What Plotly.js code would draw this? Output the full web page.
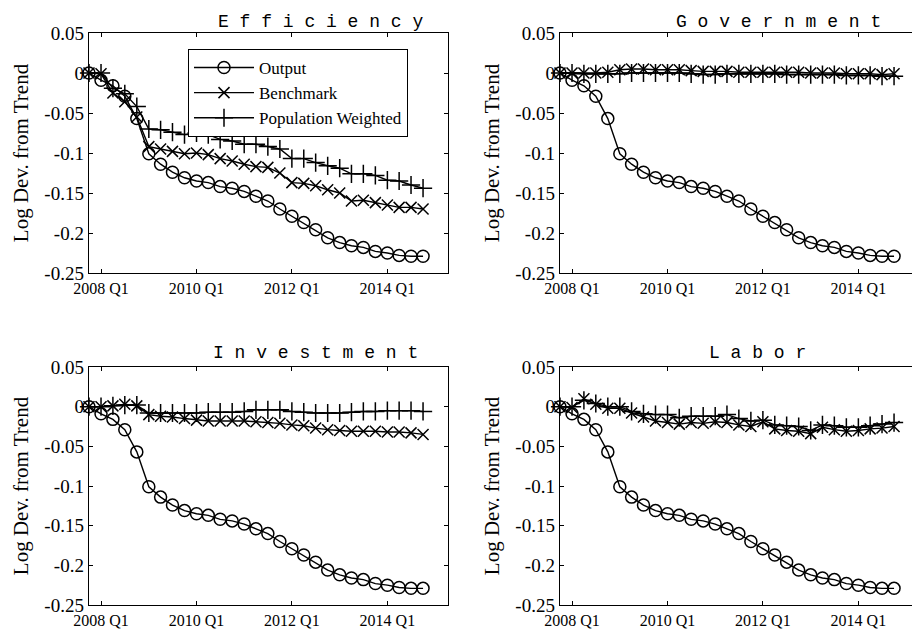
<!DOCTYPE html>
<html>
<head>
<meta charset="utf-8">
<script src="https://cdn.plot.ly/plotly-3.0.1.min.js"></script>
<style>
html,body{margin:0;padding:0;overflow:hidden;background:#fff;}
#chart{width:920px;height:639px;}
</style>
</head>
<body>
<div id="chart"></div>
<script>
// Quarterly dates, 2007 Q4 .. 2014 Q4
const quarters = ['2007-10-01','2008-01-01','2008-04-01','2008-07-01','2008-10-01',
  '2009-01-01','2009-04-01','2009-07-01','2009-10-01',
  '2010-01-01','2010-04-01','2010-07-01','2010-10-01',
  '2011-01-01','2011-04-01','2011-07-01','2011-10-01',
  '2012-01-01','2012-04-01','2012-07-01','2012-10-01',
  '2013-01-01','2013-04-01','2013-07-01','2013-10-01',
  '2014-01-01','2014-04-01','2014-07-01','2014-10-01'];

const tickDates = ['2008-01-01','2010-01-01','2012-01-01','2014-01-01'];
const tickLabels = ['2008 Q1','2010 Q1','2012 Q1','2014 Q1'];
const yTickVals = [0.05, 0, -0.05, -0.1, -0.15, -0.2, -0.25];
const yTickLabels = ['0.05','0','-0.05','-0.1','-0.15','-0.2','-0.25'];

const panelTitles = ['E f f i c i e n c y','G o v e r n m e n t','I n v e s t m e n t','L a b o r'];
const seriesNames = ['Output','Benchmark','Population Weighted'];

// Output (same in every panel)
const output = [0, -0.009, -0.016, -0.029, -0.057, -0.101, -0.114, -0.124, -0.131, -0.135,
  -0.137, -0.142, -0.144, -0.148, -0.154, -0.160, -0.170, -0.179, -0.187, -0.196,
  -0.206, -0.212, -0.216, -0.218, -0.223, -0.225, -0.228, -0.229, -0.229];

// Efficiency
const effBenchmark = [0, -0.001, -0.025, -0.036, -0.055, -0.092, -0.095, -0.098, -0.101, -0.100,
  -0.102, -0.107, -0.110, -0.114, -0.117, -0.118, -0.125, -0.137, -0.138, -0.141,
  -0.146, -0.150, -0.160, -0.159, -0.162, -0.165, -0.168, -0.168, -0.170];
const effPopWeighted = [0, 0.000, -0.019, -0.026, -0.042, -0.070, -0.071, -0.074, -0.077, -0.075,
  -0.077, -0.083, -0.085, -0.089, -0.089, -0.092, -0.095, -0.107, -0.107, -0.112,
  -0.116, -0.119, -0.126, -0.126, -0.128, -0.134, -0.135, -0.140, -0.144];

// Government
const govBenchmark = [0, 0, 0, 0, 0.001, 0.004, 0.005, 0.005, 0.004, 0.004,
  0.004, 0.003, 0.002, 0.002, 0.002, 0.001, 0.001, 0.001, 0.001, 0.001,
  0.001, 0.000, 0.000, 0.000, -0.001, -0.001, -0.001, -0.002, -0.001];
const govPopWeighted = [0, 0, -0.001, -0.001, -0.001, -0.001, 0, 0, 0, 0,
  0, -0.001, -0.002, -0.002, -0.001, -0.001, -0.001, -0.001, -0.001, -0.002,
  -0.002, -0.002, -0.002, -0.002, -0.003, -0.003, -0.003, -0.004, -0.004];

// Investment
const invBenchmark = [0, 0, 0.001, 0.003, 0.001, -0.010, -0.012, -0.013, -0.015, -0.017,
  -0.018, -0.018, -0.018, -0.018, -0.019, -0.020, -0.021, -0.023, -0.024, -0.027,
  -0.029, -0.030, -0.031, -0.031, -0.031, -0.032, -0.032, -0.033, -0.035];
const invPopWeighted = [0, 0, 0.001, 0.002, 0.002, -0.008, -0.008, -0.008, -0.008, -0.008,
  -0.007, -0.007, -0.007, -0.006, -0.004, -0.004, -0.004, -0.006, -0.007, -0.008,
  -0.008, -0.008, -0.007, -0.006, -0.006, -0.005, -0.005, -0.005, -0.006];

// Labor
const labBenchmark = [0, -0.001, 0.010, 0.003, -0.002, -0.002, -0.008, -0.013, -0.018, -0.020,
  -0.022, -0.020, -0.021, -0.019, -0.020, -0.023, -0.025, -0.019, -0.028, -0.030,
  -0.031, -0.034, -0.026, -0.029, -0.031, -0.030, -0.028, -0.027, -0.025];
const labPopWeighted = [0, 0, 0.008, 0.004, 0.000, 0.000, -0.006, -0.009, -0.010, -0.010,
  -0.014, -0.012, -0.012, -0.012, -0.010, -0.015, -0.018, -0.017, -0.023, -0.024,
  -0.025, -0.030, -0.023, -0.024, -0.026, -0.026, -0.024, -0.022, -0.020];

const panels = [
  {bench: effBenchmark, pop: effPopWeighted},
  {bench: govBenchmark, pop: govPopWeighted},
  {bench: invBenchmark, pop: invPopWeighted},
  {bench: labBenchmark, pop: labPopWeighted}
];

const W = 920, H = 639;
const xDom = [[89/W, 448/W], [560/W, 919/W], [89/W, 448/W], [560/W, 919/W]];
const yDom = [[1-273/H, 1-33/H], [1-273/H, 1-33/H], [1-605/H, 1-367/H], [1-605/H, 1-367/H]];
const titleX = [320, 778, 315, 757];
const titleY = [22, 22, 353, 353];

const serif = 'Liberation Serif, Times New Roman, serif';
const mono = 'Liberation Mono, Courier New, monospace';

const symbols = ['circle-open', 'x-thin-open', 'cross-thin-open'];
const sizes = [12, 11, 13];

const traces = [];
const layout = {
  width: W, height: H,
  margin: {l: 0, r: 0, t: 0, b: 0},
  paper_bgcolor: '#fff', plot_bgcolor: '#fff',
  showlegend: true,
  legend: {
    x: 188/W, y: 1-49/H, xanchor: 'left', yanchor: 'top',
    bgcolor: '#fff', bordercolor: '#000', borderwidth: 1,
    font: {family: serif, size: 17, color: '#000'},
    itemwidth: 60, tracegroupgap: 0,
    entrywidth: 172, entrywidthmode: 'pixels'
  },
  annotations: []
};

panels.forEach((p, i) => {
  const ax = i === 0 ? '' : String(i + 1);
  const series = [output, p.bench, p.pop];
  series.forEach((vals, k) => {
    traces.push({
      x: quarters, y: vals, type: 'scatter', mode: 'lines+markers',
      name: seriesNames[k], showlegend: i === 0,
      xaxis: 'x' + ax, yaxis: 'y' + ax, cliponaxis: false,
      line: {color: '#000', width: 1.4},
      marker: {symbol: symbols[k], size: sizes[k], color: '#000', line: {color: '#000', width: 1.5}}
    });
  });
  layout['xaxis' + ax] = {
    domain: xDom[i], anchor: 'y' + ax, type: 'date',
    range: ['2007-10-01', '2015-04-10'],
    tickmode: 'array', tickvals: tickDates, ticktext: tickLabels,
    ticks: 'inside', ticklen: 4, tickcolor: '#000', tickwidth: 1,
    showline: true, linecolor: '#000', linewidth: 1.3, mirror: 'ticks',
    showgrid: false, zeroline: false,
    tickfont: {family: serif, size: 16, color: '#000'}
  };
  layout['yaxis' + ax] = {
    domain: yDom[i], anchor: 'x' + ax,
    range: [-0.25, 0.05],
    tickmode: 'array', tickvals: yTickVals, ticktext: yTickLabels,
    ticks: 'inside', ticklen: 4, tickcolor: '#000', tickwidth: 1,
    showline: true, linecolor: '#000', linewidth: 1.3, mirror: 'ticks',
    showgrid: false, zeroline: false,
    tickfont: {family: serif, size: 19, color: '#000'},
    title: {text: 'Log Dev. from Trend', font: {family: serif, size: 21, color: '#000'}, standoff: 10}
  };
  layout.annotations.push({
    text: panelTitles[i], xref: 'paper', yref: 'paper',
    x: titleX[i]/W, y: 1 - titleY[i]/H, xanchor: 'center', yanchor: 'middle',
    showarrow: false, font: {family: mono, size: 18, color: '#000'}
  });
});

Plotly.newPlot('chart', traces, layout, {displayModeBar: false, staticPlot: true});
</script>
</body>
</html>
